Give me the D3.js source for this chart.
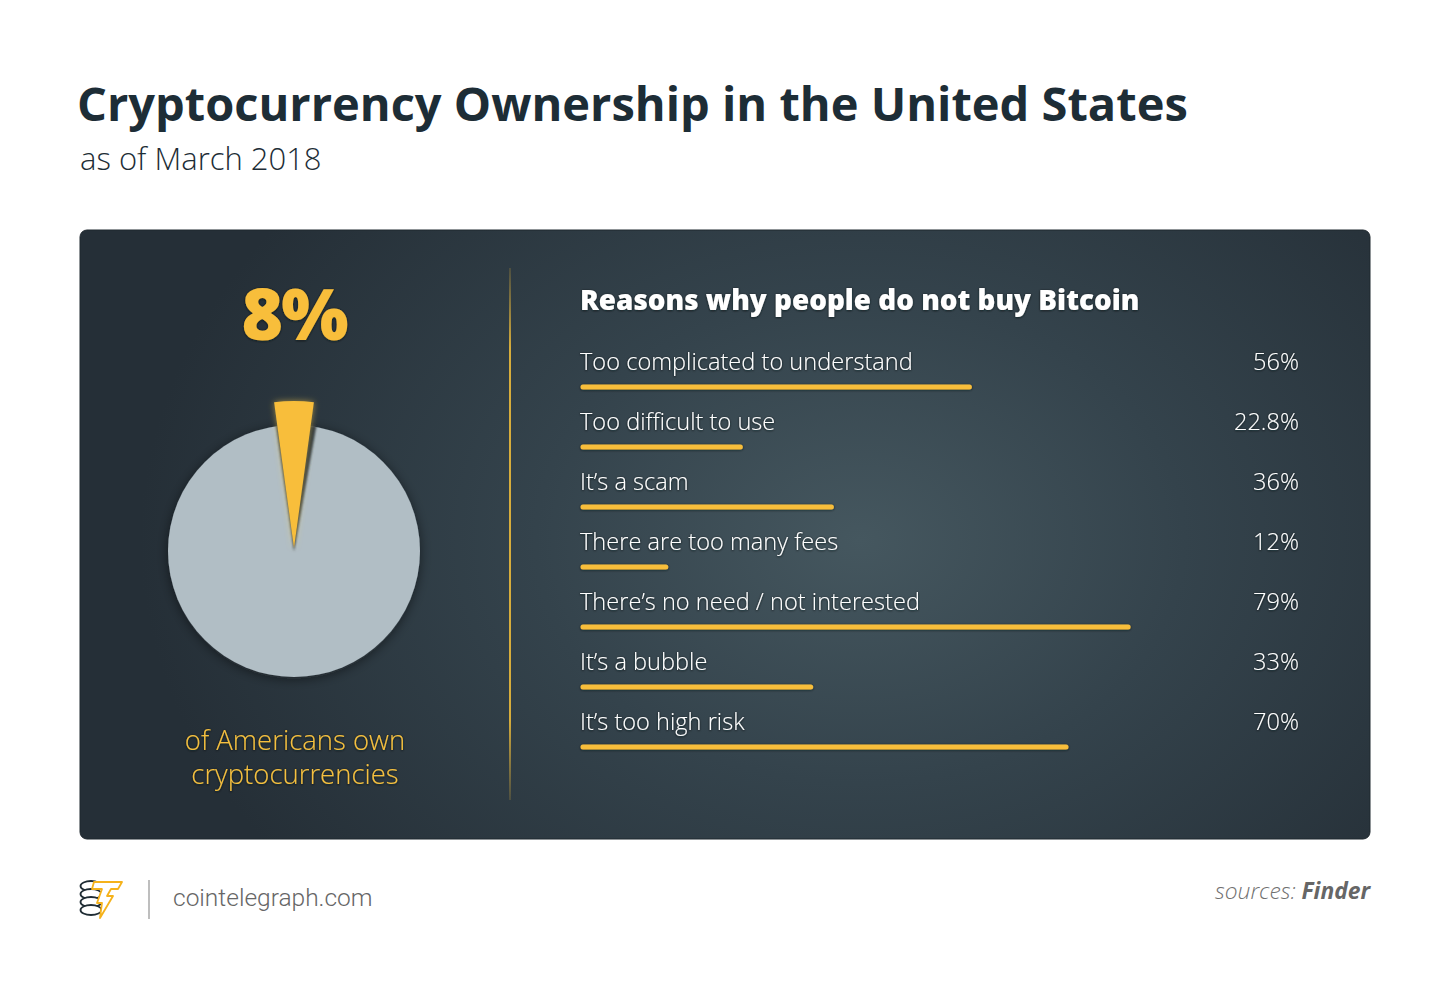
<!DOCTYPE html>
<html>
<head>
<meta charset="utf-8">
<script src="https://cdn.jsdelivr.net/npm/d3@7"></script>
<style>
  html, body { margin: 0; padding: 0; background: #ffffff; }
  svg { display: block; }
</style>
</head>
<body>
<svg id="chart" width="1450" height="990"></svg>
<script>
// ---------- DATA ----------
const title = "Cryptocurrency Ownership in the United States";
const subtitle = "as of March 2018";
const ownershipShare = 8;              // % of Americans owning crypto
const ownershipCaption = ["of Americans own", "cryptocurrencies"];
const barsTitle = "Reasons why people do not buy Bitcoin";
const reasons = [
  "Too complicated to understand",
  "Too difficult to use",
  "It\u2019s a scam",
  "There are too many fees",
  "There\u2019s no need / not interested",
  "It\u2019s a bubble",
  "It\u2019s too high risk"
];
const reasonValues = [56, 22.8, 36, 12, 79, 33, 70];
const reasonLabels = ["56%", "22.8%", "36%", "12%", "79%", "33%", "70%"];
const siteName = "cointelegraph.com";
const sourceName = "Finder";

// ---------- SETUP ----------
const svg = d3.select("#chart");
const defs = svg.append("defs");
const YELLOW = "#f8be3b";

const grad = defs.append("radialGradient").attr("id", "panelGrad")
  .attr("gradientUnits", "userSpaceOnUse")
  .attr("cx", 860).attr("cy", 540).attr("r", 720)
  .attr("gradientTransform", "translate(860,540) scale(1,0.75) translate(-860,-540)");
grad.append("stop").attr("offset", "0%").attr("stop-color", "#45575f");
grad.append("stop").attr("offset", "45%").attr("stop-color", "#34434c");
grad.append("stop").attr("offset", "100%").attr("stop-color", "#252f37");

const sepGrad = defs.append("linearGradient").attr("id", "sepGrad")
  .attr("x1", 0).attr("y1", 0).attr("x2", 0).attr("y2", 1);
sepGrad.append("stop").attr("offset", "0%").attr("stop-color", "#c9a23a").attr("stop-opacity", 0.2);
sepGrad.append("stop").attr("offset", "15%").attr("stop-color", "#d7ad3c").attr("stop-opacity", 1);
sepGrad.append("stop").attr("offset", "85%").attr("stop-color", "#d7ad3c").attr("stop-opacity", 1);
sepGrad.append("stop").attr("offset", "100%").attr("stop-color", "#c9a23a").attr("stop-opacity", 0.2);

const txtShadow = defs.append("filter").attr("id", "txtShadow")
  .attr("x", "-10%").attr("y", "-30%").attr("width", "120%").attr("height", "160%");
txtShadow.append("feDropShadow").attr("dx", 0).attr("dy", 0.6)
  .attr("stdDeviation", 0.9).attr("flood-color", "#0d1418").attr("flood-opacity", 0.9);

const barShadow = defs.append("filter").attr("id", "barShadow")
  .attr("filterUnits", "userSpaceOnUse")
  .attr("x", 560).attr("y", 300).attr("width", 760).attr("height", 500);
barShadow.append("feDropShadow").attr("dx", 0).attr("dy", 0.6)
  .attr("stdDeviation", 0.9).attr("flood-color", "#0d1418").attr("flood-opacity", 0.8);

const glow = defs.append("filter").attr("id", "glow")
  .attr("x", "-50%").attr("y", "-20%").attr("width", "200%").attr("height", "140%");
glow.append("feDropShadow").attr("dx", 0).attr("dy", 0)
  .attr("stdDeviation", 3).attr("flood-color", "#ffcf4a").attr("flood-opacity", 0.55);

const blur = defs.append("filter").attr("id", "blur")
  .attr("x", "-50%").attr("y", "-50%").attr("width", "200%").attr("height", "200%");
blur.append("feGaussianBlur").attr("stdDeviation", 1.2);

const pieShadow = defs.append("filter").attr("id", "pieShadow")
  .attr("x", "-30%").attr("y", "-30%").attr("width", "160%").attr("height", "160%");
pieShadow.append("feDropShadow").attr("dx", 0).attr("dy", 2)
  .attr("stdDeviation", 6).attr("flood-color", "#0a1014").attr("flood-opacity", 0.5);

// ---------- TITLE ----------
const titleText = svg.append("text")
  .attr("x", 77).attr("y", 121)
  .attr("font-family", "'Open Sans', sans-serif")
  .attr("font-weight", 700)
  .attr("font-size", 52)
  .attr("fill", "#1d2d36")
  .text(title);
(function fit(){
  const w = titleText.node().getComputedTextLength();
  if (w > 0) titleText.attr("font-size", 52 * 1111 / w);
})();

svg.append("text")
  .attr("x", 80).attr("y", 170)
  .attr("font-family", "'Open Sans', sans-serif")
  .attr("font-weight", 300)
  .attr("font-size", 31)
  .attr("fill", "#1d2d36")
  .text(subtitle);

// ---------- PANEL ----------
svg.append("rect")
  .attr("x", 80).attr("y", 230).attr("width", 1290).attr("height", 609)
  .attr("rx", 7).attr("ry", 7)
  .attr("fill", "url(#panelGrad)")
  .attr("stroke", "#1f282e").attr("stroke-width", 1);

svg.append("rect")
  .attr("x", 509).attr("y", 268).attr("width", 2).attr("height", 532)
  .attr("fill", "url(#sepGrad)");

// ---------- LEFT: PIE ----------
const pieCx = 294, pieCy = 551, pieR = 126;
const angle = d3.scaleLinear().domain([0, 100]).range([0, Math.PI * 1.08]);
const half = angle(ownershipShare) / 2;

const pieG = svg.append("g").attr("transform", `translate(${pieCx},${pieCy})`);
const arc = d3.arc();
const pieData = d3.pie().sort(null)
  .startAngle(-half).endAngle(2 * Math.PI - half)([ownershipShare, 100 - ownershipShare]);

// grey remainder drawn as full disc
pieG.append("path")
  .attr("d", arc({innerRadius: 0, outerRadius: pieR, startAngle: 0, endAngle: 2 * Math.PI}))
  .attr("fill", "#b1bec5")
  .attr("filter", "url(#pieShadow)");

// dark cut where the slice is pulled out
pieG.append("path")
  .attr("d", arc({innerRadius: 0, outerRadius: pieR + 1,
    startAngle: pieData[0].startAngle * 1.05,
    endAngle: -pieData[0].startAngle * 1.3}))
  .attr("fill", "#2b353c")
  .attr("filter", "url(#blur)");

// yellow slice, pulled outward
pieG.append("path")
  .attr("transform", "translate(0,-3)")
  .attr("d", arc({innerRadius: 0, outerRadius: 147,
    startAngle: pieData[0].startAngle, endAngle: pieData[0].startAngle + angle(ownershipShare)}))
  .attr("fill", YELLOW)
  .attr("filter", "url(#glow)");

svg.append("text")
  .attr("x", pieCx).attr("y", 340)
  .attr("text-anchor", "middle")
  .attr("font-family", "'Open Sans', sans-serif")
  .attr("font-weight", 800)
  .attr("font-size", 71)
  .attr("letter-spacing", -2)
  .attr("fill", YELLOW)
  .attr("filter", "url(#txtShadow)")
  .text(ownershipShare + "%");

svg.append("g").selectAll("text").data(ownershipCaption).join("text")
  .attr("x", pieCx + 1)
  .attr("y", (d, i) => 750 + i * 34)
  .attr("text-anchor", "middle")
  .attr("font-family", "'Open Sans', sans-serif")
  .attr("font-weight", 300)
  .attr("font-size", 27.5)
  .attr("fill", "#f5c03f")
  .attr("filter", "url(#txtShadow)")
  .text(d => d);

// ---------- RIGHT: BARS ----------
svg.append("text")
  .attr("x", 580).attr("y", 310)
  .attr("font-family", "'Open Sans', sans-serif")
  .attr("font-weight", 800)
  .attr("font-size", 27.85)
  .attr("fill", "#ffffff")
  .attr("filter", "url(#txtShadow)")
  .text(barsTitle);

const x = d3.scaleLinear().domain([0, 100]).range([583, 583 + 690]);
const y = d3.scaleBand().domain(reasons).range([340, 760]).paddingInner(0);

const rows = svg.append("g").selectAll("g").data(reasons).join("g")
  .attr("transform", d => `translate(0,${y(d)})`);

rows.append("text")
  .attr("x", 580).attr("y", 30)
  .attr("font-family", "'Open Sans', sans-serif")
  .attr("font-weight", 300)
  .attr("font-size", 23.6)
  .attr("fill", "#ffffff")
  .attr("filter", "url(#txtShadow)")
  .text(d => d);

rows.append("text")
  .attr("x", 1299).attr("y", 30)
  .attr("text-anchor", "end")
  .attr("font-family", "'Open Sans', sans-serif")
  .attr("font-weight", 300)
  .attr("font-size", 23.6)
  .attr("fill", "#ffffff")
  .attr("filter", "url(#txtShadow)")
  .text((d, i) => reasonLabels[i]);

const barG = svg.append("g").attr("filter", "url(#barShadow)");
barG.selectAll("line").data(reasons).join("line")
  .attr("x1", x(0)).attr("x2", (d, i) => x(reasonValues[i]))
  .attr("y1", d => y(d) + 47).attr("y2", d => y(d) + 47)
  .attr("stroke", YELLOW)
  .attr("stroke-width", 5)
  .attr("stroke-linecap", "round");

// ---------- FOOTER ----------
const logo = svg.append("g").attr("transform", "translate(80,879)");
[0, 1, 2, 3].forEach(i => {
  logo.append("ellipse")
    .attr("cx", 11).attr("cy", 7 + i * 8).attr("rx", 10.5).attr("ry", 5)
    .attr("fill", "#ffffff").attr("stroke", "#1f2c34").attr("stroke-width", 1.8);
});
logo.append("path")
  .attr("d", "M14,3 L42,3 L38,10 L31,10 L27,17 L33,17 L20,39 L22,24 L17,24 L22,10 L12,10 Z")
  .attr("fill", "#ffffff").attr("stroke", "#f5b21b").attr("stroke-width", 1.8)
  .attr("stroke-linejoin", "round");

svg.append("line")
  .attr("x1", 149).attr("x2", 149).attr("y1", 880).attr("y2", 919)
  .attr("stroke", "#a8a8a8").attr("stroke-width", 1.5);

svg.append("text")
  .attr("x", 173).attr("y", 906)
  .attr("font-family", "Roboto, sans-serif")
  .attr("font-weight", 300)
  .attr("font-size", 24.5)
  .attr("fill", "#666666")
  .text(siteName);

const src = svg.append("text")
  .attr("x", 1370).attr("y", 899)
  .attr("text-anchor", "end")
  .attr("font-family", "'Open Sans', sans-serif")
  .attr("font-style", "italic")
  .attr("font-size", 22.8)
  .attr("fill", "#707070");
src.append("tspan").attr("font-weight", 300).text("sources: ");
src.append("tspan").attr("font-weight", 700).attr("fill", "#666666").text(sourceName);
</script>
</body>
</html>
